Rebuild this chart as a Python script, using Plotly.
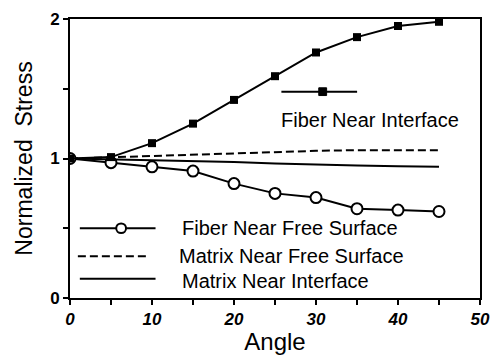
import plotly.graph_objects as go

angles = [0, 5, 10, 15, 20, 25, 30, 35, 40, 45]
fiber_interface = [1.0, 1.01, 1.11, 1.25, 1.42, 1.59, 1.76, 1.87, 1.95, 1.98]
fiber_free = [1.0, 0.97, 0.94, 0.91, 0.82, 0.75, 0.72, 0.64, 0.63, 0.62]
matrix_free = [1.0, 1.01, 1.02, 1.03, 1.04, 1.05, 1.055, 1.06, 1.06, 1.06]
matrix_interface = [1.0, 0.995, 0.99, 0.98, 0.975, 0.965, 0.955, 0.95, 0.945, 0.94]

xticks = [0, 5, 10, 15, 20, 25, 30, 35, 40, 45, 50]
xticktext = ["0", "", "10", "", "20", "", "30", "", "40", "", "50"]
yticks = [0, 0.5, 1, 1.5, 2]
yticktext = ["0", "", "1", "", "2"]

FONT = "Liberation Sans, Arial, sans-serif"
DASH = "8px,4px"

fig = go.Figure()
fig.add_trace(go.Scatter(x=angles, y=matrix_free, mode="lines",
                         line=dict(color="black", width=2, dash=DASH)))
fig.add_trace(go.Scatter(x=angles, y=matrix_interface, mode="lines",
                         line=dict(color="black", width=2)))
fig.add_trace(go.Scatter(x=angles, y=fiber_free, mode="lines+markers",
                         line=dict(color="black", width=2),
                         marker=dict(symbol="circle", size=11, color="white",
                                     line=dict(color="black", width=2))))
fig.add_trace(go.Scatter(x=angles, y=fiber_interface, mode="lines+markers",
                         line=dict(color="black", width=2),
                         marker=dict(symbol="square", size=8, color="black")))

W, H = 500, 362
L, R, T, B = 70, 13, 10, 64
pw, ph = W - L - R, H - T - B

def px(x):
    return (x - L) / pw

def py(y):
    return (H - B - y) / ph

shapes = []
def seg(x0, x1, y, dash="solid"):
    shapes.append(dict(type="line", xref="paper", yref="paper",
                       x0=px(x0), x1=px(x1), y0=py(y), y1=py(y),
                       line=dict(color="black", width=2, dash=dash)))

seg(285, 362, 85)
shapes.append(dict(type="rect", xref="paper", yref="paper",
                   x0=px(323), x1=px(331), y0=py(89), y1=py(81),
                   fillcolor="black", line=dict(color="black", width=1)))
seg(80, 157, 226)
shapes.append(dict(type="circle", xref="paper", yref="paper",
                   x0=px(117), x1=px(127), y0=py(231), y1=py(221),
                   fillcolor="white", line=dict(color="black", width=2)))
seg(78, 150, 255, DASH)
seg(80, 157, 278)

annos = []
def txt(x, y, s):
    annos.append(dict(text=s, xref="paper", yref="paper", x=px(x), y=py(y),
                      xanchor="left", yanchor="middle", showarrow=False,
                      font=dict(family=FONT, size=20, color="black")))

txt(283, 114, "Fiber Near Interface")
txt(182, 226, "Fiber Near Free Surface")
txt(179, 255, "Matrix Near Free Surface")
txt(182, 280, "Matrix Near Interface")

fig.update_layout(
    width=W, height=H,
    margin=dict(l=L, r=R, t=T, b=B),
    paper_bgcolor="white", plot_bgcolor="white",
    showlegend=False,
    shapes=shapes, annotations=annos,
    font=dict(family=FONT, color="black"),
)
fig.update_xaxes(range=[0, 50], tickvals=xticks, ticktext=xticktext,
                 showgrid=False, zeroline=False, showline=True, mirror=True,
                 linecolor="black", linewidth=2, ticks="outside", ticklen=5,
                 tickwidth=2, tickcolor="black",
                 tickfont=dict(family=FONT, size=17, weight="bold", style="italic"),
                 title=dict(text="Angle", font=dict(family=FONT, size=24), standoff=5))
fig.update_yaxes(range=[0, 2], tickvals=yticks, ticktext=yticktext,
                 showgrid=False, zeroline=False, showline=True, mirror=True,
                 linecolor="black", linewidth=2, ticks="outside", ticklen=5,
                 tickwidth=2, tickcolor="black",
                 tickfont=dict(family=FONT, size=17, weight="bold"),
                 title=dict(text="Normalized  Stress", font=dict(family=FONT, size=23), standoff=11))

fig.write_html("out.html")
